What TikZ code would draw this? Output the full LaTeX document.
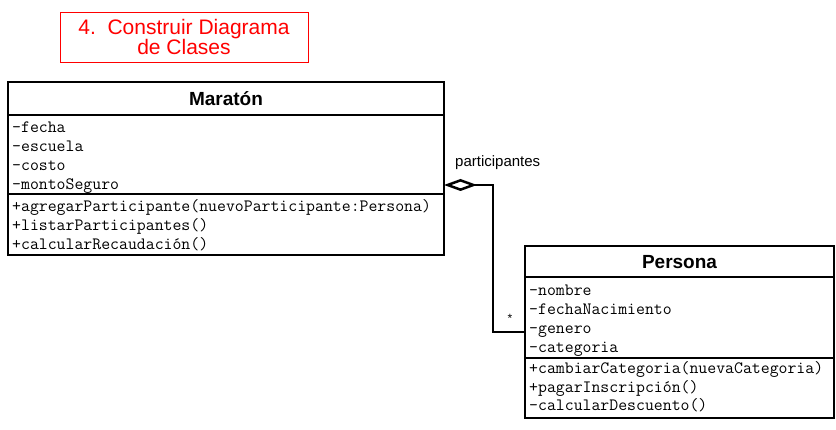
\documentclass[tikz,border=0pt]{standalone}
\usepackage{fontspec}
\setmainfont{Liberation Sans}
\usetikzlibrary{arrows.meta,positioning}

\tikzset{
  titulo/.style={draw=red, text=red, line width=0.9pt, minimum width=248pt, minimum height=50pt,
    align=center, inner sep=0pt, font=\fontsize{21}{19.5}\selectfont},
  cabecera/.style={draw, line width=2pt, outer sep=0pt, inner sep=0pt, anchor=north west,
    font=\bfseries\fontsize{19}{22}\selectfont, text height=13.6pt, text depth=0pt},
  seccion/.style={draw, line width=2pt, outer sep=0pt, inner sep=0pt},
  miembro/.style={anchor=base west, inner sep=0pt, font=\ttfamily\fontsize{17.3}{19}\selectfont},
  agregacion/.style={line width=2.5pt, -{Diamond[open, length=33pt, width=12pt]}},
  rotulo/.style={inner sep=0pt, font=\fontsize{15}{18}\selectfont}
}

\begin{document}
\begin{tikzpicture}[x=1pt, y=-1pt]
    \useasboundingbox (0,0) rectangle (836,430);

    % Title
    \node[titulo] (titulo) at (184,37) {4.\ \ Construir Diagrama\\de Clases};

    % Class Maraton
    \node[cabecera, minimum width=436pt, minimum height=33pt] (maraton) at (8,82) {Maratón};
    \node[seccion, minimum width=436pt, minimum height=79pt, below=0pt of maraton] (maratonattr) {};
    \node[seccion, minimum width=436pt, minimum height=61pt, below=0pt of maratonattr] (maratonmet) {};
    \foreach \m [count=\i] in {-fecha,-escuela,-costo,-montoSeguro}
        \node[miembro] (ma\i) at ([xshift=4pt, yshift={-18pt-(\i-1)*19pt}]maratonattr.north west) {\m};
    \foreach \m [count=\i] in {+agregarParticipante(nuevoParticipante:Persona),+listarParticipantes(),+calcularRecaudación()}
        \node[miembro] (mm\i) at ([xshift=4pt, yshift={-18pt-(\i-1)*19pt}]maratonmet.north west) {\m};

    % Class Persona
    \node[cabecera, minimum width=309pt, minimum height=31pt] (persona) at (525,246) {Persona};
    \node[seccion, minimum width=309pt, minimum height=81pt, below=0pt of persona] (personaattr) {};
    \node[seccion, minimum width=309pt, minimum height=60pt, below=0pt of personaattr] (personamet) {};
    \foreach \m [count=\i] in {-nombre,-fechaNacimiento,-genero,-categoria}
        \node[miembro] (pa\i) at ([xshift=4pt, yshift={-19pt-(\i-1)*18.7pt}]personaattr.north west) {\m};
    \foreach \m [count=\i] in {+cambiarCategoria(nuevaCategoria),+pagarInscripción(),-calcularDescuento()}
        \node[miembro] (pm\i) at ([xshift=4pt, yshift={-15.5pt-(\i-1)*18.7pt}]personamet.north west) {\m};

    % Aggregation
    \coordinate (agg) at ([yshift=-70pt]maratonattr.north east);
    \coordinate (enl) at ([yshift=-14.5pt]personaattr.west);
    \draw[agregacion] (enl) -- ++(-32,0) |- (agg);
    \node[rotulo, anchor=base west] (rol) at ([xshift=11pt, yshift=18pt]agg) {participantes};
    \node[rotulo, font=\fontsize{12}{14}\selectfont] (mult) at ([xshift=-15pt, yshift=14pt]enl) {*};

\end{tikzpicture}
\end{document}
